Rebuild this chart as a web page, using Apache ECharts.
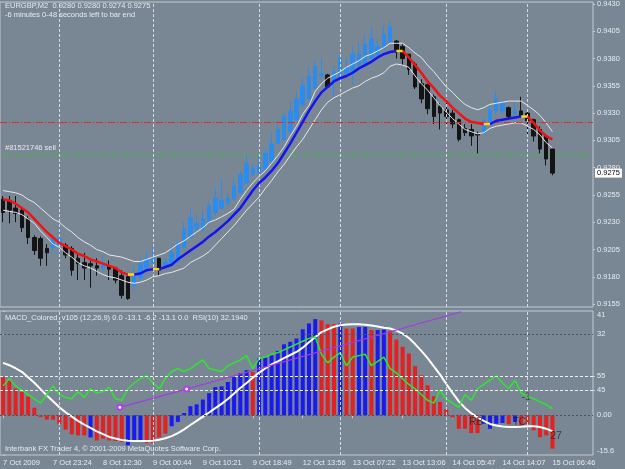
<!doctype html>
<html>
<head>
<meta charset="utf-8">
<title>EURGBP,M2</title>
<script src="https://cdn.jsdelivr.net/npm/echarts@6/dist/echarts.min.js"></script>
<style>html,body{margin:0;padding:0;background:#798795;}</style>
</head>
<body>
<div id="chart" style="width:625px;height:469px;"></div>
<script>
// bar times, one label every 8 bars
const timeLabels = ['7 Oct 2009', '7 Oct 23:24', '8 Oct 12:30', '9 Oct 00:44', '9 Oct 10:21', '9 Oct 18:49',
	'12 Oct 13:56', '13 Oct 07:22', '13 Oct 13:06', '14 Oct 05:47', '14 Oct 14:07', '15 Oct 06:46'];
const daySeparators = [9, 24, 41, 54, 71, 84];
const priceTicks = [0.9155, 0.9180, 0.9205, 0.9230, 0.9255, 0.9280, 0.9305, 0.9330, 0.9355, 0.9380, 0.9405, 0.9430];

const open = [0.9251,0.9250,0.9243,0.9241,0.9233,0.9216,0.9215,0.9206,0.9207,0.9209,
	0.9209,0.9206,0.9197,0.9193,0.9192,0.9190,0.9188,0.9190,0.9188,0.9181,
	0.9180,0.9172,0.9179,0.9188,0.9193,0.9197,0.9190,0.9192,0.9195,0.9207,
	0.9216,0.9224,0.9224,0.9231,0.9239,0.9243,0.9248,0.9251,0.9257,0.9266,
	0.9274,0.9275,0.9279,0.9286,0.9302,0.9306,0.9313,0.9324,0.9338,0.9343,
	0.9353,0.9364,0.9365,0.9359,0.9361,0.9366,0.9368,0.9374,0.9374,0.9380,
	0.9384,0.9389,0.9395,0.9396,0.9391,0.9384,0.9375,0.9357,0.9356,0.9345,
	0.9336,0.9333,0.9330,0.9324,0.9316,0.9315,0.9311,0.9312,0.9320,0.9332,
	0.9332,0.9335,0.9329,0.9332,0.9330,0.9324,0.9315,0.9309,0.9297];
const close = [0.9239,0.9241,0.9238,0.9225,0.9216,0.9204,0.9197,0.9202,0.9215,0.9215,
	0.9200,0.9186,0.9192,0.9188,0.9190,0.9188,0.9192,0.9187,0.9177,0.9163,
	0.9160,0.9181,0.9192,0.9197,0.9198,0.9186,0.9193,0.9202,0.9210,0.9224,
	0.9234,0.9229,0.9233,0.9245,0.9252,0.9250,0.9252,0.9263,0.9274,0.9284,
	0.9279,0.9282,0.9293,0.9302,0.9315,0.9327,0.9332,0.9343,0.9355,0.9364,
	0.9373,0.9366,0.9354,0.9368,0.9380,0.9371,0.9384,0.9384,0.9393,0.9398,
	0.9391,0.9402,0.9409,0.9386,0.9380,0.9370,0.9354,0.9343,0.9334,0.9327,
	0.9330,0.9327,0.9320,0.9306,0.9312,0.9309,0.9310,0.9323,0.9333,0.9343,
	0.9339,0.9327,0.9332,0.9327,0.9323,0.9309,0.9297,0.9288,0.9275];
const low = [0.9230,0.9229,0.9230,0.9221,0.9210,0.9200,0.9190,0.9190,0.9202,0.9198,
	0.9197,0.9181,0.9177,0.9177,0.9170,0.9181,0.9184,0.9177,0.9174,0.9160,
	0.9159,0.9168,0.9177,0.9184,0.9192,0.9181,0.9189,0.9190,0.9193,0.9206,
	0.9215,0.9222,0.9221,0.9229,0.9236,0.9242,0.9245,0.9250,0.9256,0.9265,
	0.9272,0.9274,0.9277,0.9284,0.9302,0.9304,0.9312,0.9323,0.9335,0.9342,
	0.9352,0.9362,0.9353,0.9345,0.9359,0.9364,0.9356,0.9373,0.9373,0.9379,
	0.9382,0.9388,0.9394,0.9380,0.9374,0.9365,0.9352,0.9339,0.9329,0.9320,
	0.9315,0.9320,0.9316,0.9304,0.9309,0.9300,0.9293,0.9311,0.9318,0.9329,
	0.9329,0.9325,0.9329,0.9327,0.9311,0.9304,0.9293,0.9282,0.9273];
const high = [0.9254,0.9254,0.9254,0.9243,0.9236,0.9218,0.9217,0.9210,0.9218,0.9227,
	0.9211,0.9208,0.9200,0.9202,0.9195,0.9197,0.9200,0.9195,0.9189,0.9186,
	0.9181,0.9190,0.9197,0.9204,0.9209,0.9197,0.9197,0.9209,0.9213,0.9230,
	0.9242,0.9238,0.9241,0.9250,0.9261,0.9270,0.9257,0.9270,0.9277,0.9292,
	0.9284,0.9291,0.9298,0.9312,0.9320,0.9330,0.9341,0.9350,0.9362,0.9372,
	0.9379,0.9380,0.9366,0.9373,0.9384,0.9380,0.9391,0.9395,0.9402,0.9409,
	0.9398,0.9410,0.9414,0.9397,0.9393,0.9384,0.9377,0.9361,0.9357,0.9347,
	0.9339,0.9341,0.9333,0.9325,0.9320,0.9320,0.9313,0.9325,0.9338,0.9350,
	0.9341,0.9336,0.9341,0.9345,0.9332,0.9325,0.9318,0.9311,0.9298];

// moving average and its channel
const ma = [0.9251,0.9250,0.9247,0.9243,0.9239,0.9233,0.9227,0.9221,0.9216,0.9211,
	0.9208,0.9205,0.9201,0.9199,0.9196,0.9194,0.9192,0.9190,0.9188,0.9184,
	0.9182,0.9182,0.9183,0.9186,0.9187,0.9187,0.9189,0.9191,0.9196,0.9200,
	0.9204,0.9208,0.9212,0.9217,0.9221,0.9226,0.9231,0.9237,0.9243,0.9251,
	0.9259,0.9266,0.9271,0.9277,0.9284,0.9293,0.9302,0.9312,0.9322,0.9332,
	0.9341,0.9349,0.9354,0.9359,0.9362,0.9364,0.9367,0.9371,0.9374,0.9377,
	0.9381,0.9384,0.9386,0.9387,0.9387,0.9381,0.9374,0.9367,0.9359,0.9353,
	0.9346,0.9341,0.9335,0.9330,0.9325,0.9322,0.9321,0.9320,0.9320,0.9323,
	0.9324,0.9325,0.9326,0.9327,0.9327,0.9321,0.9314,0.9309,0.9306];
const upper = [0.9259,0.9258,0.9257,0.9255,0.9251,0.9248,0.9243,0.9238,0.9233,0.9230,
	0.9225,0.9221,0.9216,0.9212,0.9209,0.9205,0.9203,0.9200,0.9199,0.9198,
	0.9196,0.9194,0.9194,0.9196,0.9198,0.9200,0.9202,0.9206,0.9210,0.9213,
	0.9217,0.9221,0.9225,0.9230,0.9232,0.9235,0.9238,0.9242,0.9251,0.9259,
	0.9266,0.9272,0.9277,0.9284,0.9291,0.9299,0.9309,0.9318,0.9329,0.9337,
	0.9350,0.9357,0.9362,0.9365,0.9368,0.9372,0.9375,0.9378,0.9382,0.9384,
	0.9387,0.9390,0.9394,0.9394,0.9394,0.9390,0.9385,0.9381,0.9374,0.9368,
	0.9361,0.9354,0.9349,0.9343,0.9338,0.9335,0.9333,0.9335,0.9338,0.9339,
	0.9340,0.9341,0.9341,0.9341,0.9337,0.9333,0.9328,0.9321,0.9313];
const lower = [0.9241,0.9240,0.9239,0.9237,0.9233,0.9229,0.9222,0.9216,0.9210,0.9207,
	0.9202,0.9198,0.9193,0.9190,0.9188,0.9185,0.9182,0.9180,0.9179,0.9177,
	0.9175,0.9174,0.9175,0.9177,0.9180,0.9181,0.9183,0.9184,0.9186,0.9188,
	0.9193,0.9196,0.9199,0.9203,0.9209,0.9215,0.9221,0.9227,0.9234,0.9241,
	0.9247,0.9253,0.9261,0.9268,0.9276,0.9283,0.9291,0.9299,0.9306,0.9315,
	0.9324,0.9333,0.9340,0.9344,0.9347,0.9350,0.9353,0.9355,0.9359,0.9362,
	0.9364,0.9367,0.9373,0.9375,0.9374,0.9372,0.9364,0.9357,0.9351,0.9344,
	0.9337,0.9331,0.9325,0.9320,0.9315,0.9313,0.9311,0.9312,0.9316,0.9318,
	0.9319,0.9320,0.9321,0.9321,0.9318,0.9315,0.9310,0.9303,0.9298];

const stopPrice = 0.9322;
const openPrice = 0.9291;
const bid = 0.9275;

// MACD histogram, direction (1 rising / -1 falling), signal, RSI(10)
const hist = [15.0,13.7,10.5,9.2,7.4,3.0,-0.7,-1.7,-1.7,-3.3,
	-5.6,-7.5,-7.9,-7.9,-8.7,-9.9,-9.2,-9.9,-10.1,-10.5,
	-11.8,-10.5,-10.1,-10.9,-10.9,-8.7,-7.2,-4.3,-2.6,0.9,
	3.6,4.3,6.2,8.7,11.1,11.4,13.1,15.0,16.6,17.7,
	17.0,22.3,22.7,23.6,25.3,27.9,28.9,30.2,33.8,36.1,
	37.8,37.3,35.8,35.8,36.1,34.1,34.1,34.7,34.7,33.5,
	33.5,33.7,33.2,29.8,26.9,24.3,19.3,15.7,11.8,7.5,
	5.3,2.4,-0.9,-5.3,-5.3,-7.0,-7.0,-3.3,-5.3,-3.3,
	-3.0,-3.5,-2.6,-3.9,-3.3,-5.9,-8.6,-7.9,-13.1];
const histDir = [-1,-1,-1,-1,-1,-1,-1,-1,-1,-1,
	-1,-1,-1,-1,1,-1,-1,-1,-1,-1,
	1,1,1,-1,-1,-1,-1,1,1,1,
	1,1,1,1,1,1,1,1,1,1,
	-1,1,1,1,1,1,1,1,1,1,
	1,-1,-1,-1,1,-1,-1,1,1,-1,
	1,1,-1,-1,-1,-1,-1,-1,-1,-1,
	-1,-1,-1,-1,-1,-1,-1,1,1,1,
	1,-1,1,-1,-1,-1,-1,-1,-1];
const signal = [20.6,19.7,18.5,17.1,15.0,12.8,10.3,7.8,5.5,3.2,
	1.2,-0.5,-2.2,-3.7,-4.9,-6.3,-7.4,-8.5,-9.1,-9.7,
	-10.0,-10.1,-10.1,-10.1,-10.0,-9.6,-9.0,-8.2,-7.0,-5.5,
	-3.8,-2.2,-0.5,1.1,2.8,4.5,6.4,8.6,10.7,12.7,
	14.8,16.8,18.4,20.0,21.2,22.5,23.7,24.9,26.6,28.7,
	30.8,32.7,33.8,34.8,35.4,35.7,35.8,35.8,35.6,35.3,
	34.9,34.4,34.1,33.3,32.1,30.4,28.0,25.3,22.5,19.2,
	16.0,12.3,8.8,5.5,2.9,0.8,-0.8,-2.2,-3.4,-4.0,
	-4.4,-4.6,-4.6,-4.5,-4.3,-4.3,-4.6,-5.3,-6.2];
const rsi = [48,53,48,45,42,39,36,42,48,42,
	40,39,44,40,46,43,44,47,39,38,
	46,50,53,55,50,46,53,58,60,58,
	60,63,66,60,59,58,62,64,66,69,
	60,67,68,70,71,73,75,77,79,81,
	82,70,64,68,71,62,68,69,70,62,
	65,68,60,57,53,49,46,42,38,36,
	45,39,36,33,42,38,46,49,52,55,
	50,46,52,43,41,39,37,35,32.2];

// trend line drawn on the RSI window (bar position, RSI)
const trendX = [18.7, 29.4, 73.4];
const trendY = [33.1, 45.8, 99.5];

// text objects in the indicator window (bar position, MACD value)
const noteText = ['RB', 'TC', '-1', '27'];
const noteX = [75.8, 82.7, 83.8, 88.6];
const noteY = [-2.6, -2.6, 7.2, -8.1];

const font = 'Liberation Sans';
const txt = '#e6eaee';
const bull = '#2b8cf0', bear = '#141414';
const nBars = 95;
const cats = Array.from({length: nBars}, (v, i) => String(i));

function maPart(kind) {
	let out = new Array(ma.length).fill(null);
	for (let i = 0; i < ma.length - 1; i++) {
		let d = Math.round((ma[i + 1] - ma[i]) * 1e5);
		let k = d === 0 ? 'y' : (d > 0 ? 'b' : 'r');
		if (k === kind) { out[i] = ma[i]; out[i + 1] = ma[i + 1]; }
	}
	return out;
}

const sepLine = {color: '#d4dadf', type: [3, 2], width: 1};
const sepMarks = daySeparators.map(i => ({xAxis: i, lineStyle: sepLine}));
const labelFn = i => i % 8 === 0 && i / 8 < timeLabels.length;
const small = {fontSize: 7.5, fontFamily: font};
const mark = {silent: true, symbol: ['none', 'none'], animation: false, precision: 6, label: {show: false}};

let chart = echarts.init(document.getElementById('chart'), null, {width: 625, height: 469});

let opts = {
	animation: false,
	backgroundColor: '#798795',
	textStyle: {fontFamily: font},
	title: [
		{text: 'EURGBP,M2  0.9280 0.9280 0.9274 0.9275', left: 5, top: 2},
		{text: '-6 minutes 0-48 seconds left to bar end', left: 5, top: 11},
		{text: '#81521746 sell', left: 5, top: 144},
		{text: 'MACD_Colored_v105 (12,26,9) 0.0 -13.1 -6.2 -13.1 0.0  RSI(10) 32.1940', left: 5, top: 314},
		{text: 'Interbank FX Trader 4, \u00a9 2001-2009 MetaQuotes Software Corp.', left: 5, top: 445}
	].map(t => Object.assign(t, {padding: 0, textStyle: Object.assign({fontWeight: 'normal', color: txt}, small)})),
	grid: [
		{left: 0, top: 0, width: 593, height: 307, show: true, borderColor: '#c3cad0', borderWidth: 1},
		{left: 0, top: 311, width: 593, height: 144, show: true, borderColor: '#c3cad0', borderWidth: 1}
	],
	xAxis: [
		{type: 'category', gridIndex: 0, data: cats, boundaryGap: true,
			axisLine: {show: false}, axisTick: {show: false}, axisLabel: {show: false}, splitLine: {show: false}},
		{type: 'category', gridIndex: 1, data: cats, boundaryGap: true,
			axisLine: {show: false},
			axisTick: {show: true, alignWithLabel: true, interval: labelFn, length: 3, lineStyle: {color: '#c3cad0'}},
			axisLabel: Object.assign({interval: labelFn, align: 'left', margin: 4, color: txt,
				formatter: (v, i) => timeLabels[i / 8] || ''}, small),
			splitLine: {show: false}},
		{type: 'value', gridIndex: 1, min: -0.5, max: nBars - 0.5, show: false}
	],
	yAxis: [
		{type: 'value', gridIndex: 0, position: 'right', min: 0.91523, max: 0.94318, scale: true,
			axisLine: {show: false}, splitLine: {show: false},
			axisTick: {show: true, customValues: priceTicks, length: 2, lineStyle: {color: '#c3cad0'}},
			axisLabel: Object.assign({customValues: priceTicks, formatter: v => v.toFixed(4), margin: 4, color: txt}, small)},
		{type: 'value', gridIndex: 1, position: 'right', min: -15.6, max: 41,
			axisLine: {show: false}, splitLine: {show: false},
			axisTick: {show: true, customValues: [-15.6, 0, 32, 41], length: 2, lineStyle: {color: '#c3cad0'}},
			axisLabel: Object.assign({customValues: [-15.6, 0, 32, 41], formatter: v => v === 0 ? '0.00' : String(v),
				verticalAlignMinLabel: 'bottom', verticalAlignMaxLabel: 'top', margin: 4, color: txt}, small)},
		{type: 'value', gridIndex: 1, position: 'right', min: 0, max: 100,
			axisLine: {show: false}, splitLine: {show: false},
			axisTick: {show: true, customValues: [45, 55], length: 2, lineStyle: {color: '#c3cad0'}},
			axisLabel: Object.assign({customValues: [45, 55], margin: 4, color: txt}, small)}
	],
	series: [
		// order open price line
		{type: 'line', xAxisIndex: 0, yAxisIndex: 0, data: cats.map(() => openPrice), symbol: 'none', z: 2, silent: true,
			lineStyle: {color: '#33c233', type: [7, 2, 1, 2], width: 1}},
		{
			type: 'candlestick', xAxisIndex: 0, yAxisIndex: 0, barWidth: 4, z: 3,
			data: open.map((o, i) => [o, close[i], low[i], high[i]]),
			itemStyle: {color: bull, color0: bear, borderColor: bull, borderColor0: bear, borderWidth: 1},
			markLine: Object.assign({}, mark, {data: sepMarks})
		},
		{type: 'line', xAxisIndex: 0, yAxisIndex: 0, data: upper, symbol: 'none', z: 4,
			lineStyle: {color: '#e8e8e8', width: 1},
			markLine: Object.assign({}, mark, {
				data: [
					{yAxis: stopPrice, lineStyle: {color: '#e02a2a', type: [7, 2, 1, 2], width: 1}}
				]
			})},
		{type: 'line', xAxisIndex: 0, yAxisIndex: 0, data: lower, symbol: 'none', z: 4,
			lineStyle: {color: '#e8e8e8', width: 1},
			markLine: Object.assign({}, mark, {
				lineStyle: {color: 'rgba(0,0,0,0)', width: 0},
				data: [
					{yAxis: bid,
						label: Object.assign({show: true, position: 'end', formatter: bid.toFixed(4), distance: 2,
							backgroundColor: '#ffffff', color: '#000000', padding: [1, 2, 0, 2]}, small)}
				]
			})},
		{type: 'line', xAxisIndex: 0, yAxisIndex: 0, data: maPart('r'), symbol: 'none', z: 5,
			lineStyle: {color: '#f01414', width: 2.5}},
		{type: 'line', xAxisIndex: 0, yAxisIndex: 0, data: maPart('b'), symbol: 'none', z: 5,
			lineStyle: {color: '#1414f0', width: 2.5}},
		{type: 'line', xAxisIndex: 0, yAxisIndex: 0, data: maPart('y'), symbol: 'none', z: 6,
			lineStyle: {color: '#ffd21e', width: 2.5}},

		{
			type: 'bar', xAxisIndex: 1, yAxisIndex: 1, barWidth: 4, z: 2,
			data: hist.map((v, i) => ({value: v, itemStyle: {color: histDir[i] > 0 ? '#1a1af0' : '#e42020'}})),
			markLine: Object.assign({}, mark, {
				data: sepMarks.concat([
					{yAxis: 0, lineStyle: {color: '#4d565e', type: [2, 2], width: 1}},
					{yAxis: 32, lineStyle: {color: '#4d565e', type: [2, 2], width: 1}}
				])
			})
		},
		{type: 'line', xAxisIndex: 1, yAxisIndex: 1, data: signal, symbol: 'none', z: 3,
			lineStyle: {color: '#ffffff', width: 2}},
		{type: 'line', xAxisIndex: 1, yAxisIndex: 2, data: rsi, symbol: 'none', z: 4,
			lineStyle: {color: '#2ae82a', width: 1.5},
			markLine: Object.assign({}, mark, {
				data: [
					{yAxis: 45, lineStyle: {color: '#eef0f2', type: [3, 2], width: 1}},
					{yAxis: 55, lineStyle: {color: '#eef0f2', type: [3, 2], width: 1}}
				]
			})},
		{type: 'line', xAxisIndex: 2, yAxisIndex: 2, z: 5,
			data: trendX.map((x, i) => ({value: [x, trendY[i]], symbol: i < 2 ? 'emptyCircle' : 'none'})),
			symbolSize: 5, itemStyle: {color: '#b040e8'},
			lineStyle: {color: '#a43ce6', width: 1.2}},
		{type: 'scatter', xAxisIndex: 2, yAxisIndex: 1, z: 6, symbolSize: 0, silent: true,
			data: noteText.map((t, i) => ({name: t, value: [noteX[i], noteY[i]]})),
			label: {show: true, position: 'inside', formatter: p => p.name, color: '#262626', fontSize: 10, fontFamily: font}}
	]
};

chart.setOption(opts);
</script>
</body>
</html>
